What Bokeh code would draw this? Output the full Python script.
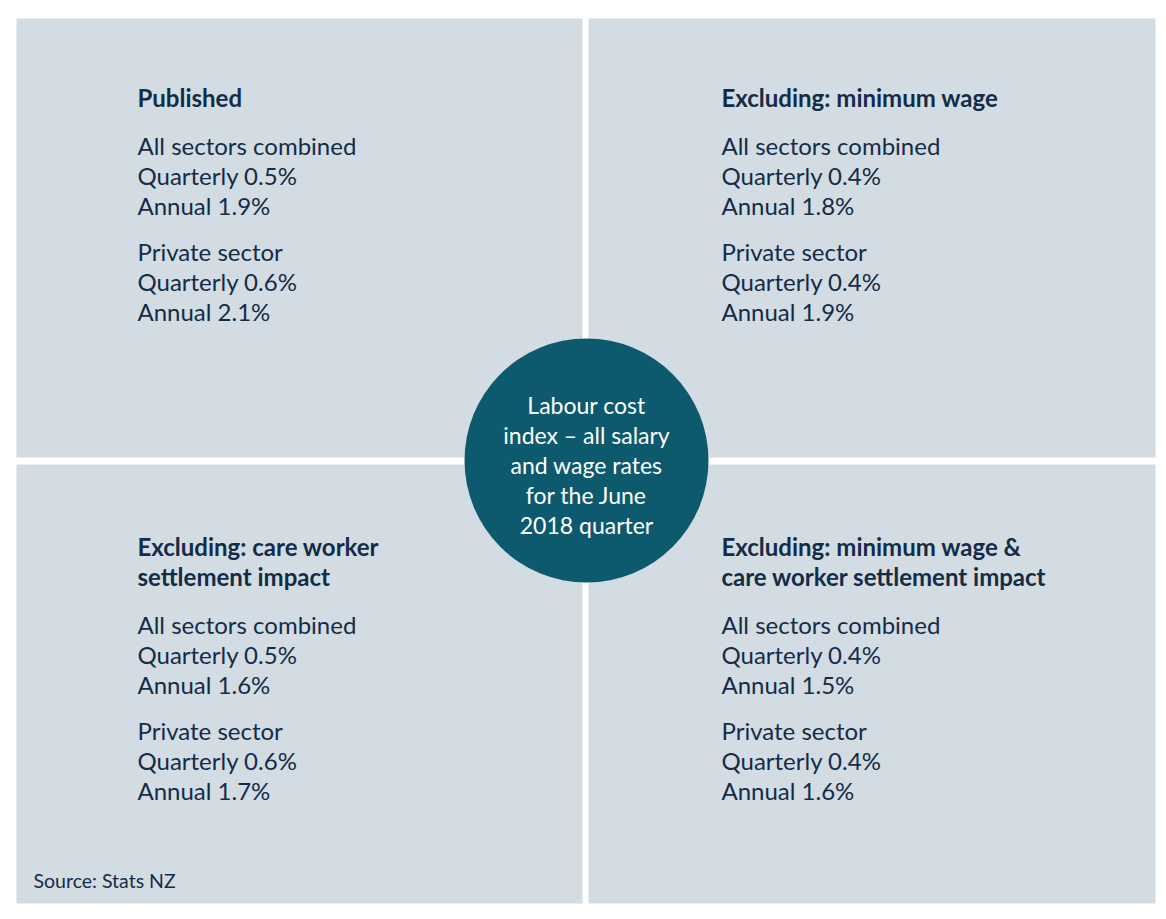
from bokeh.plotting import figure
from bokeh.models import Range1d
from bokeh.core.properties import value
from bokeh.embed import file_html
from bokeh.resources import INLINE

# ---- data ----
panel_titles = [
    "Published",
    "Excluding: minimum wage",
    "Excluding: care worker\nsettlement impact",
    "Excluding: minimum wage &\ncare worker settlement impact",
]
all_quarterly = [0.5, 0.4, 0.5, 0.4]
all_annual = [1.9, 1.8, 1.6, 1.5]
priv_quarterly = [0.6, 0.4, 0.6, 0.4]
priv_annual = [2.1, 1.9, 1.7, 1.6]
center_label = "Labour cost\nindex \u2013 all salary\nand wage rates\nfor the June\n2018 quarter"
source_note = "Source: Stats NZ"

# ---- layout ----
OFF = 0
W, H = 1158, 911
PANEL = "#d3dce2"
TEXT = "#132c48"
CIRCLE = "#0d5a6f"
FONT = "Lato"

p = figure(width=W, height=H, output_backend="svg", toolbar_location=None,
           x_range=Range1d(0, W), y_range=Range1d(H, 0),
           min_border=0, outline_line_color=None, background_fill_color="white",
           border_fill_color="white")
p.axis.visible = False
p.grid.visible = False

def sx(x):
    return x - OFF

# panels
lefts = [16, 588, 16, 588]
rights = [582, 1155, 582, 1155]
tops = [18, 18, 464, 464]
bottoms = [457, 457, 903, 903]
p.quad(left=[sx(v) for v in lefts], right=[sx(v) for v in rights],
       top=[sx(v) for v in tops], bottom=[sx(v) for v in bottoms],
       fill_color=PANEL, line_color=None)

# panel texts
col_x = [137, 721, 137, 721]
title_y = [97, 97, 546, 546]
xs_t, ys_t, tt = [], [], []
xs_b, ys_b, tb = [], [], []
for i in range(4):
    lines = panel_titles[i].split("\n")
    for j, ln in enumerate(lines):
        xs_t.append(sx(col_x[i])); ys_t.append(sx(title_y[i] + 30 * j)); tt.append(ln)
    base = title_y[i] + 30 * (len(lines) - 1) + 48
    body = [
        "All sectors combined",
        f"Quarterly {all_quarterly[i]:.1f}%",
        f"Annual {all_annual[i]:.1f}%",
    ]
    body2 = [
        "Private sector",
        f"Quarterly {priv_quarterly[i]:.1f}%",
        f"Annual {priv_annual[i]:.1f}%",
    ]
    for j, ln in enumerate(body):
        xs_b.append(sx(col_x[i])); ys_b.append(sx(base + 30 * j)); tb.append(ln)
    for j, ln in enumerate(body2):
        xs_b.append(sx(col_x[i])); ys_b.append(sx(base + 106 + 30 * j)); tb.append(ln)

p.text(x=xs_t, y=ys_t, text=tt, text_font=value(FONT), text_font_style="bold",
       text_font_size="24px", text_color=TEXT, text_baseline="middle", text_align="left")
p.text(x=xs_b, y=ys_b, text=tb, text_font=value(FONT),
       text_font_size="24px", text_color=TEXT, text_baseline="middle", text_align="left")

# center circle
cx, cy, r = 586, 460, 122
p.circle(x=[sx(cx)], y=[sx(cy)], radius=r, fill_color=CIRCLE, line_color=None)
clines = center_label.split("\n")
p.text(x=[sx(cx)] * len(clines), y=[sx(404 + 30 * k) for k in range(len(clines))],
       text=clines, text_font=value(FONT), text_font_size="23px", text_color="white",
       text_baseline="middle", text_align="center")

# source
p.text(x=[sx(33)], y=[sx(880)], text=[source_note], text_font=value(FONT),
       text_font_size="19.5px", text_color=TEXT, text_baseline="middle", text_align="left")

open("out.html", "w").write(file_html(p, INLINE))
